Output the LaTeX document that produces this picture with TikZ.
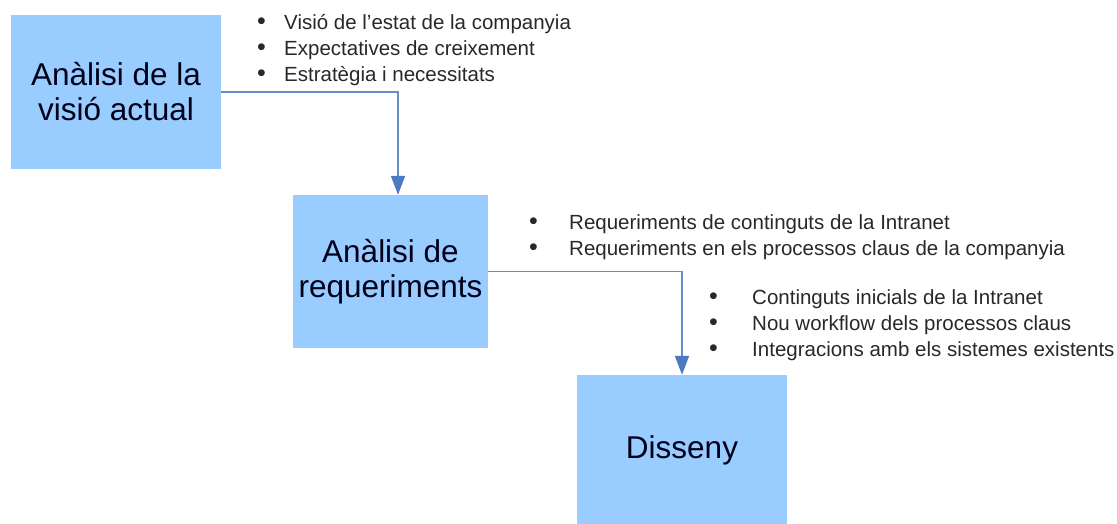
\documentclass[tikz,border=0pt]{standalone}
\usepackage{fontspec}
\setmainfont{Liberation Sans}
\usepackage{tikz}
\usetikzlibrary{arrows.meta}

\definecolor{BoxBlue}{RGB}{153,204,255}
\definecolor{ArrowBlue}{RGB}{76,122,194}
\definecolor{TextGray}{RGB}{40,40,40}
\newcommand{\punt}{{\fontsize{25}{26}\selectfont •}}

\begin{document}
\begin{tikzpicture}[x=1pt,y=-1pt,
  fase/.style={fill=BoxBlue, inner sep=0pt, align=center, text=black!90!blue,
    font=\fontsize{31.5}{35}\selectfont},
  punts/.style={anchor=base west, inner sep=0pt, text=TextGray,
    font=\fontsize{20.5}{26}\selectfont},
  flow/.style={ArrowBlue!85, line width=1.7pt,
    -{Triangle[width=14pt,length=19pt,color=ArrowBlue]}}]
  \useasboundingbox (0,0) rectangle (1117,523);
  %
  % VISIO ACTUAL
  \node[fase, minimum width=210pt, minimum height=154pt] (visio) at (116,92) {Anàlisi de la\\visió actual};
  \node[punts] (visiollista) at (257,29) {\begin{tabular}[t]{@{}p{27pt}@{}l@{}}
  \punt & Visió de l’estat de la companyia\\
  \punt & Expectatives de creixement\\
  \punt & Estratègia i necessitats
  \end{tabular}};
  %
  % REQUERIMENTS
  \node[fase, minimum width=195pt, minimum height=153pt] (requer) at (390.5,271.5) {Anàlisi de\\requeriments};
  \node[punts] (requerllista) at (529,229) {\begin{tabular}[t]{@{}p{40pt}@{}l@{}}
  \punt & Requeriments de continguts de la Intranet\\
  \punt & Requeriments en els processos claus de la companyia
  \end{tabular}};
  %
  % DISSENY
  \node[fase, minimum width=210pt, minimum height=150pt] (disseny) at (682,450) {Disseny};
  \node[punts] (dissenyllista) at (709,304) {\begin{tabular}[t]{@{}p{43pt}@{}l@{}}
  \punt & Continguts inicials de la Intranet\\
  \punt & Nou workflow dels processos claus\\
  \punt & Integracions amb els sistemes existents
  \end{tabular}};
  %
  \draw[flow] (visio.east) -| ([xshift=7.5pt]requer.north);
  \draw[flow] (requer.east) -| (disseny.north);
  %
\end{tikzpicture}
\end{document}
